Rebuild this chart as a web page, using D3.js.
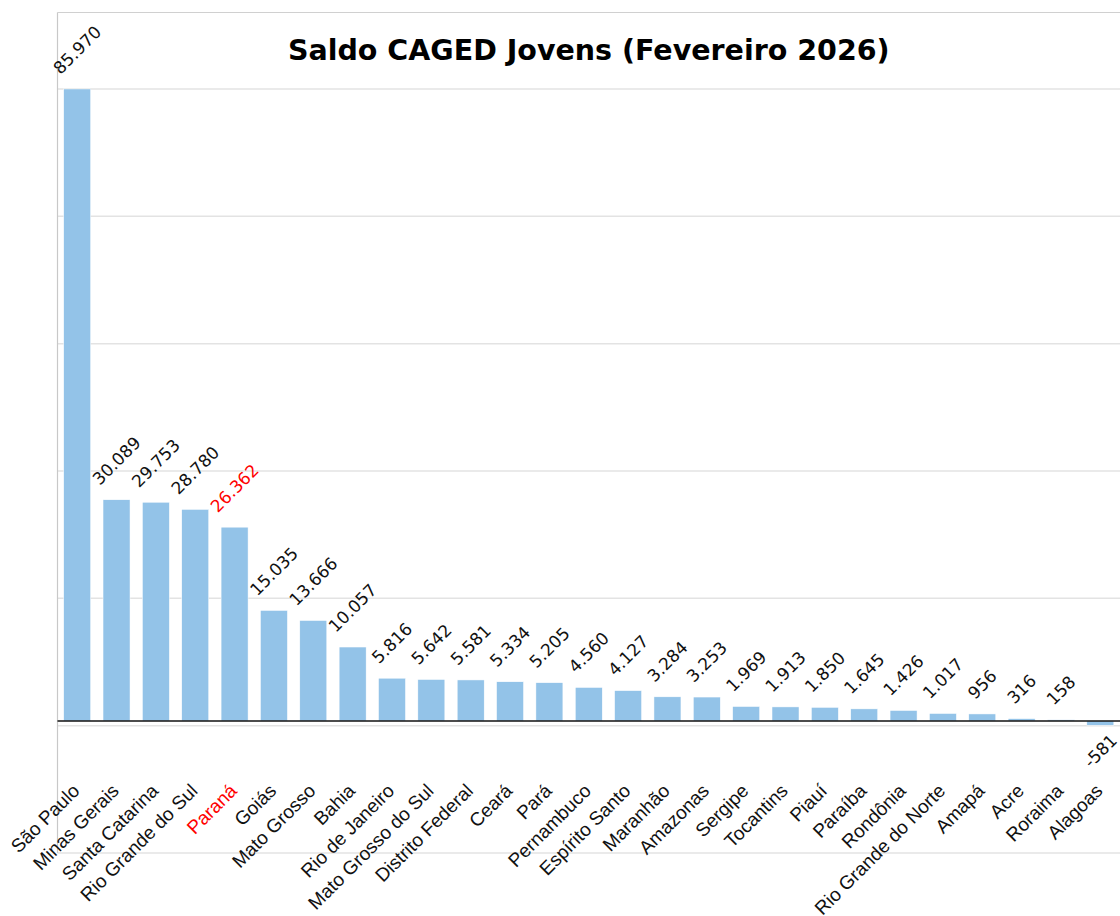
<!DOCTYPE html>
<html>
<head>
<meta charset="utf-8">
<script src="https://cdn.jsdelivr.net/npm/d3@7"></script>
<style>
  body { margin: 0; background: #fff; }
  svg { display: block; }
</style>
</head>
<body>
<svg id="chart"></svg>
<script>
// data
var estados = ['São Paulo', 'Minas Gerais', 'Santa Catarina', 'Rio Grande do Sul', 'Paraná',
  'Goiás', 'Mato Grosso', 'Bahia', 'Rio de Janeiro', 'Mato Grosso do Sul', 'Distrito Federal',
  'Ceará', 'Pará', 'Pernambuco', 'Espírito Santo', 'Maranhão', 'Amazonas', 'Sergipe',
  'Tocantins', 'Piauí', 'Paraíba', 'Rondônia', 'Rio Grande do Norte', 'Amapá', 'Acre',
  'Roraima', 'Alagoas'];
var saldo = [85970, 30089, 29753, 28780, 26362, 15035, 13666, 10057, 5816, 5642, 5581,
  5334, 5205, 4560, 4127, 3284, 3253, 1969, 1913, 1850, 1645, 1426, 1017, 956, 316,
  158, -581];
var destaque = 'Paraná';
var titulo = 'Saldo CAGED Jovens (Fevereiro 2026)';
var yLimites = [-17960, 96370];

(function() {
  var width = 1120, height = 916;
  var mLeft = 57.5, mRight = 1120, mTop = 12.5, mBottom = 853;

  var svg = d3.select('#chart')
    .attr('width', width)
    .attr('height', height);

  var data = estados.map(function(e, i) { return {estado: e, valor: saldo[i]}; });

  var xScale = d3.scaleBand()
    .domain(estados)
    .range([mLeft, mRight])
    .paddingInner(0.314)
    .paddingOuter(0.157);

  var yScale = d3.scaleLinear()
    .domain(yLimites)
    .range([mBottom, mTop]);

  var br = d3.formatLocale({decimal: ',', thousands: '.', grouping: [3], currency: ['R$', ''], minus: '-'});
  var fmt = br.format(',d');

  // grid (6 equal steps from the lower limit up to the largest value)
  var gridVals = d3.range(7).map(function(i) {
    return yLimites[0] + i * (d3.max(saldo) - yLimites[0]) / 6;
  });
  svg.append('g').attr('class', 'grid')
    .selectAll('line').data(gridVals)
    .enter().append('line')
    .attr('x1', mLeft).attr('x2', mRight)
    .attr('y1', function(d) { return yScale(d); })
    .attr('y2', function(d) { return yScale(d); })
    .attr('stroke', '#e3e3e3')
    .attr('stroke-width', 1.5);

  // frame
  svg.append('line')
    .attr('x1', mLeft).attr('x2', mRight)
    .attr('y1', mTop).attr('y2', mTop)
    .attr('stroke', '#d0d0d0').attr('stroke-width', 1.2);
  svg.append('line')
    .attr('x1', mLeft).attr('x2', mLeft)
    .attr('y1', mTop).attr('y2', mBottom)
    .attr('stroke', '#c8c8c8').attr('stroke-width', 1.2);

  // bars
  svg.append('g').attr('class', 'data')
    .selectAll('rect').data(data)
    .enter().append('rect')
    .attr('x', function(d) { return xScale(d.estado); })
    .attr('width', xScale.bandwidth())
    .attr('y', function(d) { return yScale(Math.max(0, d.valor)); })
    .attr('height', function(d) { return Math.abs(yScale(d.valor) - yScale(0)); })
    .attr('fill', '#93c3e8')
    .attr('stroke', '#ffffff')
    .attr('stroke-width', 0.5);

  // zero line
  svg.append('line')
    .attr('x1', mLeft).attr('x2', mRight)
    .attr('y1', yScale(0)).attr('y2', yScale(0))
    .attr('stroke', '#111').attr('stroke-width', 1.5);

  // value labels, rotated 45 degrees
  var fs = 17;
  var labels = svg.append('g').attr('class', 'values')
    .selectAll('text').data(data)
    .enter().append('text')
    .attr('text-anchor', 'middle')
    .attr('dominant-baseline', 'central')
    .style('font-family', '"DejaVu Sans", sans-serif')
    .style('font-size', fs + 'px')
    .attr('fill', function(d) { return d.estado === destaque ? '#ff0000' : '#111'; })
    .text(function(d) { return fmt(d.valor); });

  labels.attr('transform', function(d) {
    var w = this.getComputedTextLength();
    var half = (w + fs) * Math.SQRT1_2 / 2;
    var cx = xScale(d.estado) + xScale.bandwidth() / 2;
    var cy = d.valor >= 0 ? yScale(d.valor) - 12 - half : yScale(d.valor) + 6 + half;
    return 'translate(' + cx + ',' + cy + ') rotate(-45)';
  });

  // category labels
  svg.append('g').attr('class', 'x-labels')
    .selectAll('text').data(estados)
    .enter().append('text')
    .attr('text-anchor', 'end')
    .attr('transform', function(d) {
      return 'translate(' + (xScale(d) + xScale.bandwidth() / 2 + 3.5) + ',' + 792 + ') rotate(-45)';
    })
    .style('font-family', '"Liberation Sans", Arial, sans-serif')
    .style('font-size', '19px')
    .attr('fill', function(d) { return d === destaque ? '#ff0000' : '#111'; })
    .text(function(d) { return d; });

  // title
  svg.append('text')
    .attr('x', (mLeft + mRight) / 2)
    .attr('y', 60)
    .attr('text-anchor', 'middle')
    .style('font-family', '"DejaVu Sans", sans-serif')
    .style('font-weight', 'bold')
    .style('font-size', '28.5px')
    .attr('fill', '#000')
    .text(titulo);
})();
</script>
</body>
</html>
